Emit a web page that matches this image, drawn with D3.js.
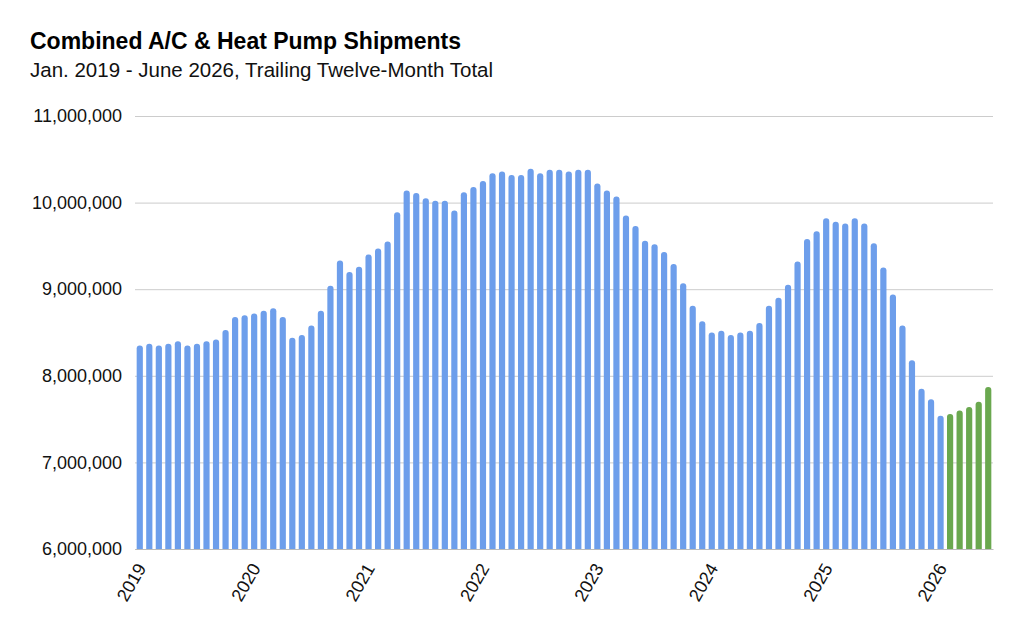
<!DOCTYPE html>
<html>
<head>
<meta charset="utf-8">
<script src="https://cdn.jsdelivr.net/npm/d3@7"></script>
<style>
  body { margin: 0; background: #fff; }
  text { font-family: "Liberation Sans", Arial, sans-serif; }
</style>
</head>
<body>
<div id="chart"></div>
<script>
// trailing twelve-month totals, millions of units
const years = [2019, 2020, 2021, 2022, 2023, 2024, 2025, 2026]
const actual = [
  8.35, 8.37, 8.35, 8.37, 8.40, 8.35, 8.37, 8.40, 8.42, 8.53, 8.68, 8.70,
  8.72, 8.75, 8.78, 8.68, 8.44, 8.47, 8.58, 8.75, 9.04, 9.33, 9.20, 9.26,
  9.40, 9.47, 9.55, 9.89, 10.14, 10.11, 10.05, 10.02, 10.02, 9.91, 10.12, 10.18,
  10.25, 10.34, 10.36, 10.32, 10.32, 10.39, 10.34, 10.38, 10.38, 10.36, 10.38, 10.38,
  10.22, 10.14, 10.07, 9.85, 9.73, 9.56, 9.52, 9.43, 9.29, 9.07, 8.81, 8.63,
  8.50, 8.52, 8.47, 8.50, 8.52, 8.61, 8.81, 8.90, 9.05, 9.32, 9.58, 9.67,
  9.82, 9.78, 9.76, 9.82, 9.76, 9.53, 9.25, 8.94, 8.58, 8.18, 7.85, 7.73,
  7.54
]
const projected = [7.56, 7.60, 7.64, 7.70, 7.87]
const yTicks = [6000000, 7000000, 8000000, 9000000, 10000000, 11000000]

let width = 1024, height = 635
let margin = {top: 116, right: 31, bottom: 86, left: 135}

// one category per month, Jan 2019 .. Jun 2026
let months = []
for (let y of years) {
  for (let m = 1; m <= 12; m++) {
    if (months.length < actual.length + projected.length) months.push(y + '-' + (m < 10 ? '0' + m : m))
  }
}

let data = []
actual.forEach((v, i) => data.push({month: months[i], value: v * 1e6, forecast: false}))
projected.forEach((v, i) => data.push({month: months[actual.length + i], value: v * 1e6, forecast: true}))

let svg = d3.select('#chart').append('svg')
  .attr('width', width)
  .attr('height', height)

svg.append('text').text('Combined A/C & Heat Pump Shipments')
  .attr('x', 30).attr('y', 49)
  .style('font-size', '23px').style('font-weight', 'bold').attr('fill', '#000')
svg.append('text').text('Jan. 2019 - June 2026, Trailing Twelve-Month Total')
  .attr('x', 30).attr('y', 77)
  .style('font-size', '20.5px').attr('fill', '#111')

let x = d3.scaleBand()
  .domain(months)
  .range([margin.left, width - margin.right])
  .paddingInner(0.35)
  .paddingOuter(0.175)

let y = d3.scaleLinear()
  .domain([6000000, 11000000])
  .range([height - margin.bottom, margin.top])

// grid + y labels
let yAxis = svg.append('g')
  .attr('transform', `translate(${margin.left},0)`)
  .call(d3.axisLeft(y).tickValues(yTicks).tickSize(-(width - margin.left - margin.right)).tickPadding(13).tickFormat(d3.format(',')))
yAxis.select('.domain').remove()
yAxis.selectAll('line').attr('stroke', '#cccccc')
yAxis.selectAll('text').style('font-size', '18px').attr('fill', '#111')

// bars with rounded tops
let r = 3
let bw = x.bandwidth()
svg.append('g')
  .selectAll('path')
  .data(data)
  .join('path')
  .attr('d', d => {
    let x0 = x(d.month), y0 = y(d.value), yb = y(6000000)
    return `M${x0},${yb}V${y0 + r}A${r},${r} 0 0 1 ${x0 + r},${y0}H${x0 + bw - r}A${r},${r} 0 0 1 ${x0 + bw},${y0 + r}V${yb}Z`
  })
  .attr('fill', d => d.forecast ? '#6aa84f' : '#6d9eeb')

// x axis, year labels on January
let jan = months.filter(m => m.endsWith('-01'))
let xAxis = svg.append('g')
  .attr('transform', `translate(0,${height - margin.bottom})`)
  .call(d3.axisBottom(x).tickValues(jan).tickSize(0).tickFormat(m => m.slice(0, 4)))
xAxis.select('.domain').attr('stroke', '#bbbbbb')
xAxis.selectAll('text')
  .style('font-size', '18px')
  .attr('fill', '#111')
  .attr('text-anchor', 'end')
  .attr('dy', null)
  .attr('y', 0)
  .attr('transform', 'translate(7,19) rotate(-60)')
</script>
</body>
</html>
